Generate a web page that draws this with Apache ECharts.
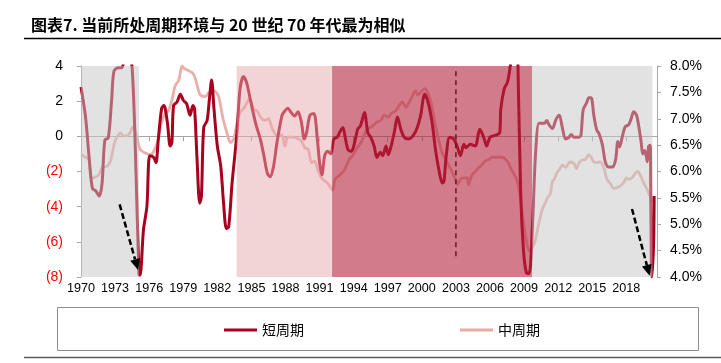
<!DOCTYPE html>
<html><head><meta charset="utf-8">
<script src="https://cdn.jsdelivr.net/npm/echarts@6/dist/echarts.min.js"></script>
<style>html,body{margin:0;padding:0;background:#fff}#c{width:721px;height:363px}</style>
</head><body><div id="c"></div>
<script>
// 短周期 (left axis)
const shortYears = [1970.0,1970.4,1970.7,1971.0,1971.3,1971.6,1971.85,1972.1,1972.4,1972.7,1972.9,1973.3,1973.6,1973.9,1974.2,1974.5,1974.8,1975.1,1975.2,1975.5,1975.8,1976.05,1976.4,1976.6,1976.8,1977.1,1977.3,1977.6,1977.85,1978.0,1978.15,1978.45,1978.75,1979.0,1979.3,1979.6,1979.85,1980.0,1980.2,1980.45,1980.6,1980.8,1981.1,1981.3,1981.5,1981.7,1982.0,1982.3,1982.55,1982.8,1983.0,1983.3,1983.7,1984.0,1984.3,1984.6,1984.9,1985.35,1985.8,1986.1,1986.4,1986.65,1986.95,1987.25,1987.7,1987.95,1988.2,1988.5,1988.8,1989.1,1989.4,1989.65,1989.85,1990.15,1990.5,1990.8,1991.0,1991.2,1991.45,1991.7,1992.0,1992.25,1992.55,1992.75,1993.05,1993.25,1993.5,1993.8,1994.05,1994.35,1994.6,1994.95,1995.25,1995.5,1995.8,1996.05,1996.35,1996.55,1996.85,1997.05,1997.3,1997.6,1997.85,1998.15,1998.45,1998.85,1999.25,1999.6,1999.9,2000.25,2000.55,2000.9,2001.2,2001.5,2001.8,2001.95,2002.15,2002.45,2002.8,2003.1,2003.4,2003.7,2003.9,2004.25,2004.7,2005.1,2005.5,2005.7,2006.0,2006.45,2006.85,2006.95,2007.25,2007.55,2007.8,2008.0,2008.35,2008.5,2008.7,2008.95,2009.2,2009.45,2009.75,2010.0,2010.3,2010.5,2010.8,2011.0,2011.2,2011.5,2011.8,2012.1,2012.35,2012.65,2012.95,2013.15,2013.4,2013.8,2014.0,2014.2,2014.5,2014.7,2014.9,2015.15,2015.4,2015.6,2015.9,2016.15,2016.45,2016.75,2017.05,2017.25,2017.4,2017.6,2017.9,2018.2,2018.4,2018.65,2018.9,2019.1,2019.3,2019.45,2019.6,2019.75,2019.85,2019.95,2020.1,2020.15,2020.25,2020.4,2020.45];
const shortValues = [2.8,1.1,-1.1,-2.95,-3.1,-3.4,-2.7,-0.2,-0.1,2.1,3.7,3.9,3.9,4.6,4.6,3.9,-1.1,-7.85,-7.9,-5.3,-4.0,-1.1,-1.2,-1.5,-0.2,1.6,1.75,0.8,-0.55,-0.35,1.75,1.95,2.4,2.05,1.85,1.2,1.75,1.55,-1.1,-3.8,-3.4,0.5,0.9,2.1,3.2,1.6,-0.55,-1.7,-3.8,-5.25,-5.15,-2.65,0.0,2.7,3.4,3.0,2.1,0.8,-0.2,-1.1,-2.1,-2.3,-1.7,-0.35,1.2,1.45,1.6,1.35,1.15,1.4,0.8,-0.15,0.2,1.2,1.3,-0.15,-1.5,-2.2,-1.1,-0.85,-1.0,-0.15,-0.05,0.2,0.5,-0.05,-0.75,-0.85,-0.45,0.4,0.6,1.35,0.2,-0.05,-0.55,-1.2,-0.9,-1.1,-0.55,-1.05,-0.55,0.3,1.1,0.4,-0.05,-0.15,0.05,0.5,1.2,2.4,1.95,0.8,-0.75,-1.9,-2.65,-2.55,-1.1,-0.05,-0.15,-0.55,-1.1,-0.45,-0.65,-0.45,-0.55,0.4,-0.15,-0.55,-0.05,0.05,0.2,1.55,2.7,3.1,4.05,4.8,4.8,2.7,-3.2,-6.5,-7.75,-7.8,-4.9,-1.1,0.75,0.75,0.75,0.9,0.65,0.45,0.95,1.2,0.55,-0.15,-0.05,0.1,-0.05,-0.05,0.05,1.5,1.9,2.2,2.2,1.15,0.35,0.15,-0.5,-1.45,-1.75,-1.75,-1.35,-0.3,-0.6,-0.15,0.55,0.65,0.95,1.4,1.2,0.55,-0.3,-1.0,-0.8,-1.1,-1.45,-0.6,-0.5,-3.4,-8.0,-6.1,-3.4];
// 中周期 (right axis, %)
const midYears = [1970.0,1970.4,1970.7,1970.9,1971.1,1971.55,1971.85,1972.3,1972.6,1973.0,1973.5,1973.75,1974.2,1974.6,1974.95,1975.2,1975.65,1976.1,1976.4,1976.75,1977.05,1977.4,1977.7,1978.0,1978.3,1978.6,1978.9,1979.1,1979.3,1979.8,1980.05,1980.3,1980.5,1980.95,1981.25,1981.7,1982.1,1982.5,1982.85,1983.15,1983.45,1983.8,1984.0,1984.4,1984.85,1985.2,1985.5,1985.8,1986.15,1986.5,1986.8,1987.3,1987.65,1987.95,1988.2,1988.65,1989.1,1989.4,1989.7,1990.0,1990.3,1990.55,1990.85,1991.15,1991.45,1991.7,1992.15,1992.35,1992.75,1993.2,1993.6,1993.9,1994.3,1994.65,1995.1,1995.4,1995.7,1996.0,1996.4,1996.7,1997.05,1997.3,1997.7,1998.0,1998.3,1998.6,1998.9,1999.15,1999.45,1999.65,1999.9,2000.25,2000.5,2000.8,2001.0,2001.2,2001.5,2001.8,2002.1,2002.4,2002.65,2002.95,2003.15,2003.4,2003.7,2004.0,2004.1,2004.4,2004.7,2005.0,2005.3,2005.6,2005.9,2006.2,2006.6,2007.05,2007.5,2007.9,2008.35,2008.65,2008.95,2009.25,2009.45,2009.9,2010.3,2010.6,2010.9,2011.05,2011.3,2011.5,2011.65,2011.9,2012.15,2012.35,2012.65,2013.05,2013.4,2013.6,2013.8,2014.1,2014.4,2014.7,2014.9,2015.15,2015.45,2015.7,2016.0,2016.3,2016.6,2016.9,2017.2,2017.5,2017.8,2018.0,2018.2,2018.5,2018.8,2019.0,2019.25,2019.5,2019.8,2020.1,2020.35];
const midValues = [6.33,6.27,6.23,5.87,5.88,5.93,6.07,6.10,6.20,6.58,6.73,6.67,6.70,6.85,6.63,6.42,6.35,6.32,6.38,6.57,6.90,7.10,7.15,7.35,7.63,7.73,8.00,7.95,7.93,7.87,7.77,7.57,7.45,7.42,7.50,7.53,7.43,7.00,6.73,6.55,6.62,7.00,7.12,7.22,7.38,7.18,7.15,7.03,6.97,7.00,6.83,6.67,6.70,6.48,6.65,6.65,6.62,6.58,6.45,6.42,6.17,6.20,6.03,5.88,5.82,5.78,5.65,5.85,5.93,6.03,6.23,6.30,6.45,6.55,6.77,6.83,6.87,6.93,6.97,7.07,7.03,7.10,7.15,7.25,7.32,7.22,7.32,7.42,7.53,7.45,7.50,7.57,7.50,7.32,7.10,6.87,6.58,6.35,6.23,6.10,6.00,5.85,5.75,5.85,5.88,5.88,5.75,5.93,6.00,6.07,6.13,6.20,6.23,6.27,6.27,6.27,6.20,6.03,5.85,5.53,5.02,4.63,4.50,4.63,5.02,5.28,5.42,5.50,5.57,5.82,5.85,5.98,6.05,6.12,6.08,6.18,6.15,6.05,6.15,6.22,6.23,6.32,6.27,6.18,6.17,6.18,6.08,5.85,5.77,5.68,5.70,5.73,5.80,5.88,5.85,5.88,5.97,6.00,5.92,5.80,5.67,5.53,5.43];
const xTickYears = [1970,1973,1976,1979,1982,1985,1988,1991,1994,1997,2000,2003,2006,2009,2012,2015,2018];
// shaded phases
const phaseStart = [1970, 1983.7, 1992.1, 2009.7];
const phaseEnd = [1975.1, 1992.1, 2009.7, 2020.3];
const phaseColor = ['rgba(197,197,197,0.5)', 'rgba(229,169,173,0.5)', 'rgba(180,35,60,0.6)', 'rgba(197,197,197,0.5)'];
// annotations
const arrowFrom = [[1973.4, -3.87], [2018.5, -4.13]];
const arrowTo = [[1975.02, -7.6], [2020.05, -7.93]];
const dashYear = 2003;
const dashRange = [3.7, -7.0];

const chart = echarts.init(document.getElementById('c'), null, {renderer: 'canvas'});
const axisGray = '#a6a6a6';
chart.setOption({
  animation: false,
  backgroundColor: '#fff',
  title: {
    text: '图表7. 当前所处周期环境与 20 世纪 70 年代最为相似',
    left: 26, top: 12,
    textStyle: {fontFamily: '"Noto Sans CJK SC", sans-serif', fontWeight: 'bold', fontSize: 16, color: '#000'}
  },
  grid: {left: 81, right: 64, top: 66, height: 211, containLabel: false},
  legend: {
    data: ['短周期', '中周期'],
    left: 219, top: 318,
    itemWidth: 33, itemHeight: 3, itemGap: 156,
    icon: 'rect',
    textStyle: {fontFamily: '"Noto Sans CJK SC", sans-serif', fontSize: 14, color: '#000'}
  },
  xAxis: {
    type: 'value', min: 1970, max: 2020.7, interval: 3,
    axisLine: {lineStyle: {color: axisGray, width: 1}},
    axisTick: {show: true, length: 5, inside: false, lineStyle: {color: axisGray}, customValues: xTickYears},
    axisLabel: {customValues: xTickYears, formatter: v => String(v), margin: 5, color: '#000',
      hideOverlap: false, interval: 0,
      fontFamily: '"Liberation Sans", Arial, sans-serif', fontSize: 12.6},
    splitLine: {show: false}
  },
  yAxis: [{
    type: 'value', min: -8, max: 4, interval: 2, position: 'left',
    axisLine: {show: true, lineStyle: {color: axisGray}},
    axisTick: {show: true, length: 4, lineStyle: {color: axisGray}},
    axisLabel: {margin: 18, fontFamily: '"Liberation Sans", Arial, sans-serif', fontSize: 14,
      formatter: v => v < 0 ? '(' + (-v) + ')' : String(v),
      color: v => (Number(v) < 0 ? '#ff0000' : '#000')},
    splitLine: {show: false}
  }, {
    type: 'value', min: 4, max: 8, interval: 0.5, position: 'right',
    axisLine: {show: true, lineStyle: {color: axisGray}},
    axisTick: {show: true, length: 4, lineStyle: {color: axisGray}},
    axisLabel: {margin: 13, fontFamily: '"Liberation Sans", Arial, sans-serif', fontSize: 14, color: '#000',
      formatter: v => v.toFixed(1) + '%'},
    splitLine: {show: false}
  }],
  series: [
    {
      name: '短周期', type: 'line', yAxisIndex: 0, z: 3,
      data: shortYears.map((y, i) => [y, shortValues[i]]),
      showSymbol: false, smooth: 0.3, clip: true,
      lineStyle: {color: '#a8001f', width: 3},
      itemStyle: {color: '#a8001f'}
    },
    {
      name: '中周期', type: 'line', yAxisIndex: 1, z: 2,
      data: midYears.map((y, i) => [y, midValues[i]]),
      showSymbol: false, smooth: 0.3, clip: true,
      lineStyle: {color: '#ebaeab', width: 2.8},
      itemStyle: {color: '#e8aaa7'}
    },
    {
      name: 'dash', type: 'custom', z: 4, silent: true, yAxisIndex: 0,
      data: [[dashYear, dashRange[0], dashYear, dashRange[1]]],
      renderItem: (params, api) => {
        const a = api.coord([api.value(0), api.value(1)]);
        const b = api.coord([api.value(2), api.value(3)]);
        return {type: 'line', shape: {x1: a[0], y1: a[1], x2: b[0], y2: b[1]},
          style: {stroke: '#000', lineWidth: 1.5, lineDash: [5, 4]}};
      }
    },
    {
      name: 'phases', type: 'custom', z: 10, silent: true, yAxisIndex: 0,
      data: phaseStart.map((s, i) => [s, phaseEnd[i], i]),
      renderItem: (params, api) => {
        const p1 = api.coord([api.value(0), 4]);
        const p2 = api.coord([api.value(1), -8]);
        return {type: 'rect', shape: {x: p1[0], y: p1[1], width: p2[0] - p1[0], height: p2[1] - p1[1]},
          style: {fill: phaseColor[params.dataIndex]}};
      }
    },
    {
      name: 'arrows', type: 'custom', z: 20, silent: true, yAxisIndex: 0,
      data: arrowFrom.map((f, i) => [f[0], f[1], arrowTo[i][0], arrowTo[i][1]]),
      renderItem: (params, api) => {
        const a = api.coord([api.value(0), api.value(1)]);
        const b = api.coord([api.value(2), api.value(3)]);
        const dx = b[0] - a[0], dy = b[1] - a[1], L = Math.hypot(dx, dy);
        const ux = dx / L, uy = dy / L, hl = 11, hw = 5;
        const base = [b[0] - ux * hl, b[1] - uy * hl];
        return {type: 'group', children: [
          {type: 'line', shape: {x1: a[0], y1: a[1], x2: base[0], y2: base[1]},
            style: {stroke: '#000', lineWidth: 2.5, lineDash: [6, 3]}},
          {type: 'polygon', shape: {points: [b, [base[0] - uy * hw, base[1] + ux * hw], [base[0] + uy * hw, base[1] - ux * hw]]},
            style: {fill: '#000'}}
        ]};
      }
    }
  ],
  graphic: [
    {type: 'line', shape: {x1: 24, y1: 38.5, x2: 721, y2: 38.5}, style: {stroke: '#000', lineWidth: 1.5}},
    {type: 'rect', shape: {x: 57.5, y: 307.5, width: 641, height: 43}, style: {fill: 'none', stroke: '#8c8c8c', lineWidth: 1}},
    {type: 'line', shape: {x1: 24, y1: 357.5, x2: 721, y2: 357.5}, style: {stroke: '#595959', lineWidth: 1.5}}
  ]
});
</script>
</body></html>
